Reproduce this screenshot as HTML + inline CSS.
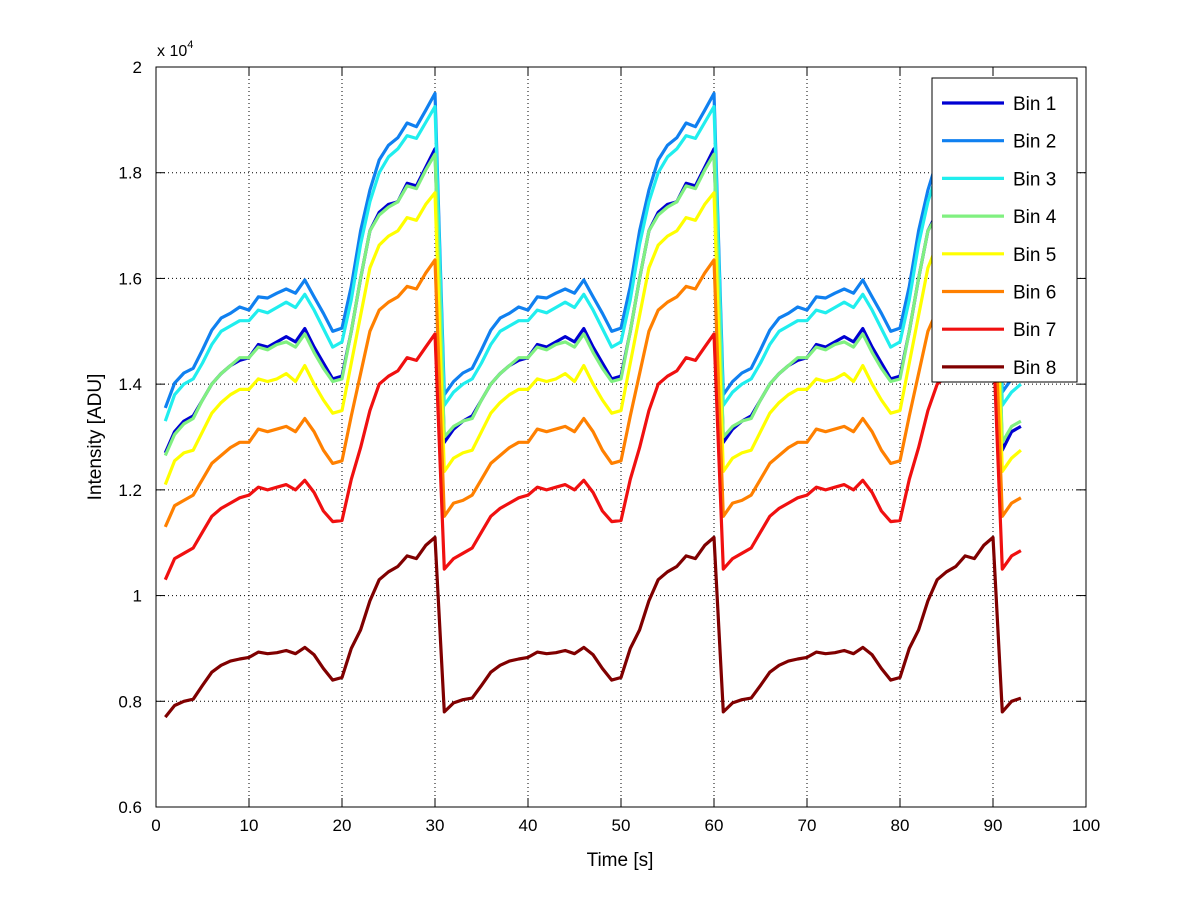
<!DOCTYPE html>
<html><head><meta charset="utf-8">
<style>
html,body{margin:0;padding:0;background:#fff;}
svg{display:block;font-family:"Liberation Sans",sans-serif;}
</style></head>
<body>
<svg id="chart" width="1200" height="901" viewBox="0 0 1200 901">
<rect x="0" y="0" width="1200" height="901" fill="#fff"/>
<g id="grid"></g>
<g id="axes"></g>
<g id="series"></g>
<rect x="156" y="67" width="930" height="740" fill="none" stroke="#000" stroke-width="1"/>
<text x="157" y="56" font-size="16">x 10<tspan dy="-8" font-size="11">4</tspan></text>
<text x="620" y="866" font-size="19" text-anchor="middle">Time [s]</text>
<text x="0" y="0" font-size="19" text-anchor="middle" transform="translate(101,437) rotate(-90)">Intensity [ADU]</text>
<g id="legend"></g>
</svg>
<script>
const xTicks = [0,10,20,30,40,50,60,70,80,90,100];
const yTicks = [0.6,0.8,1,1.2,1.4,1.6,1.8,2];
const yTickLabels = ["0.6","0.8","1","1.2","1.4","1.6","1.8","2"];
const seriesNames = ["Bin 1","Bin 2","Bin 3","Bin 4","Bin 5","Bin 6","Bin 7","Bin 8"];
const seriesColors = ["#0000d2","#1080f0","#20eeee","#80f080","#ffff00","#ff8000","#f01010","#800000"];
const time = [1,2,3,4,5,6,7,8,9,10,11,12,13,14,15,16,17,18,19,20,21,22,23,24,25,26,27,28,29,30,31,32,33,34,35,36,37,38,39,40,41,42,43,44,45,46,47,48,49,50,51,52,53,54,55,56,57,58,59,60,61,62,63,64,65,66,67,68,69,70,71,72,73,74,75,76,77,78,79,80,81,82,83,84,85,86,87,88,89,90,91,92,93];
const bin1 = [1.27,1.31,1.33,1.34,1.37,1.40,1.42,1.435,1.445,1.45,1.475,1.47,1.48,1.49,1.48,1.505,1.47,1.44,1.41,1.415,1.50,1.60,1.69,1.725,1.74,1.745,1.78,1.775,1.81,1.845,
1.29,1.315,1.33,1.34,1.37,1.40,1.42,1.435,1.445,1.45,1.475,1.47,1.48,1.49,1.48,1.505,1.47,1.44,1.41,1.415,1.50,1.60,1.69,1.725,1.74,1.745,1.78,1.775,1.81,1.845,
1.29,1.315,1.33,1.34,1.37,1.40,1.42,1.435,1.445,1.45,1.475,1.47,1.48,1.49,1.48,1.505,1.47,1.44,1.41,1.415,1.50,1.60,1.69,1.725,1.74,1.745,1.78,1.775,1.81,1.845,
1.275,1.31,1.32];
const bin2 = [1.355,1.402,1.421,1.43,1.465,1.502,1.525,1.534,1.546,1.54,1.565,1.563,1.572,1.58,1.572,1.597,1.565,1.534,1.50,1.506,1.585,1.69,1.767,1.824,1.852,1.866,1.894,1.887,1.918,1.95,
1.38,1.405,1.421,1.43,1.465,1.502,1.525,1.534,1.546,1.54,1.565,1.563,1.572,1.58,1.572,1.597,1.565,1.534,1.50,1.506,1.585,1.69,1.767,1.824,1.852,1.866,1.894,1.887,1.918,1.95,
1.38,1.405,1.421,1.43,1.465,1.502,1.525,1.534,1.546,1.54,1.565,1.563,1.572,1.58,1.572,1.597,1.565,1.534,1.50,1.506,1.585,1.69,1.767,1.824,1.852,1.866,1.894,1.887,1.918,1.95,
1.385,1.41,1.42];
const bin3 = [1.33,1.38,1.40,1.41,1.44,1.475,1.50,1.51,1.52,1.52,1.54,1.535,1.545,1.555,1.545,1.57,1.54,1.505,1.47,1.48,1.56,1.665,1.745,1.80,1.83,1.845,1.87,1.865,1.895,1.925,
1.36,1.385,1.40,1.41,1.44,1.475,1.50,1.51,1.52,1.52,1.54,1.535,1.545,1.555,1.545,1.57,1.54,1.505,1.47,1.48,1.56,1.665,1.745,1.80,1.83,1.845,1.87,1.865,1.895,1.925,
1.36,1.385,1.40,1.41,1.44,1.475,1.50,1.51,1.52,1.52,1.54,1.535,1.545,1.555,1.545,1.57,1.54,1.505,1.47,1.48,1.56,1.665,1.745,1.80,1.83,1.845,1.87,1.865,1.895,1.925,
1.36,1.385,1.40];
const bin4 = [1.265,1.305,1.325,1.335,1.37,1.40,1.42,1.435,1.45,1.45,1.47,1.465,1.475,1.48,1.47,1.495,1.46,1.43,1.405,1.41,1.50,1.60,1.69,1.72,1.735,1.745,1.775,1.77,1.805,1.835,
1.30,1.32,1.33,1.335,1.37,1.40,1.42,1.435,1.45,1.45,1.47,1.465,1.475,1.48,1.47,1.495,1.46,1.43,1.405,1.41,1.50,1.60,1.69,1.72,1.735,1.745,1.775,1.77,1.805,1.835,
1.30,1.32,1.33,1.335,1.37,1.40,1.42,1.435,1.45,1.45,1.47,1.465,1.475,1.48,1.47,1.495,1.46,1.43,1.405,1.41,1.50,1.60,1.69,1.72,1.735,1.745,1.775,1.77,1.805,1.835,
1.29,1.32,1.33];
const bin5 = [1.21,1.255,1.27,1.275,1.31,1.345,1.365,1.38,1.39,1.39,1.41,1.405,1.41,1.42,1.405,1.435,1.40,1.37,1.345,1.35,1.44,1.53,1.62,1.663,1.68,1.69,1.715,1.71,1.74,1.762,
1.235,1.26,1.27,1.275,1.31,1.345,1.365,1.38,1.39,1.39,1.41,1.405,1.41,1.42,1.405,1.435,1.40,1.37,1.345,1.35,1.44,1.53,1.62,1.663,1.68,1.69,1.715,1.71,1.74,1.762,
1.235,1.26,1.27,1.275,1.31,1.345,1.365,1.38,1.39,1.39,1.41,1.405,1.41,1.42,1.405,1.435,1.40,1.37,1.345,1.35,1.44,1.53,1.62,1.663,1.68,1.69,1.715,1.71,1.74,1.762,
1.235,1.26,1.275];
const bin6 = [1.13,1.17,1.18,1.19,1.22,1.25,1.265,1.28,1.29,1.29,1.315,1.31,1.315,1.32,1.31,1.335,1.31,1.275,1.25,1.255,1.34,1.42,1.50,1.54,1.555,1.565,1.585,1.58,1.61,1.635,
1.15,1.175,1.18,1.19,1.22,1.25,1.265,1.28,1.29,1.29,1.315,1.31,1.315,1.32,1.31,1.335,1.31,1.275,1.25,1.255,1.34,1.42,1.50,1.54,1.555,1.565,1.585,1.58,1.61,1.635,
1.15,1.175,1.18,1.19,1.22,1.25,1.265,1.28,1.29,1.29,1.315,1.31,1.315,1.32,1.31,1.335,1.31,1.275,1.25,1.255,1.34,1.42,1.50,1.54,1.555,1.565,1.585,1.58,1.61,1.635,
1.15,1.175,1.185];
const bin7 = [1.03,1.07,1.08,1.09,1.12,1.15,1.165,1.175,1.185,1.19,1.205,1.20,1.205,1.21,1.20,1.218,1.195,1.16,1.14,1.142,1.22,1.28,1.35,1.40,1.415,1.425,1.45,1.445,1.47,1.495,
1.05,1.07,1.08,1.09,1.12,1.15,1.165,1.175,1.185,1.19,1.205,1.20,1.205,1.21,1.20,1.218,1.195,1.16,1.14,1.142,1.22,1.28,1.35,1.40,1.415,1.425,1.45,1.445,1.47,1.495,
1.05,1.07,1.08,1.09,1.12,1.15,1.165,1.175,1.185,1.19,1.205,1.20,1.205,1.21,1.20,1.218,1.195,1.16,1.14,1.142,1.22,1.28,1.35,1.40,1.415,1.425,1.45,1.445,1.47,1.495,
1.05,1.075,1.085];
const bin8 = [0.77,0.792,0.800,0.804,0.830,0.855,0.868,0.876,0.880,0.883,0.893,0.890,0.892,0.896,0.890,0.902,0.888,0.862,0.840,0.845,0.900,0.935,0.990,1.030,1.045,1.055,1.075,1.070,1.095,1.110,
0.78,0.797,0.803,0.806,0.830,0.855,0.868,0.876,0.880,0.883,0.893,0.890,0.892,0.896,0.890,0.902,0.888,0.862,0.840,0.845,0.900,0.935,0.990,1.030,1.045,1.055,1.075,1.070,1.095,1.110,
0.78,0.797,0.803,0.806,0.830,0.855,0.868,0.876,0.880,0.883,0.893,0.890,0.892,0.896,0.890,0.902,0.888,0.862,0.840,0.845,0.900,0.935,0.990,1.030,1.045,1.055,1.075,1.070,1.095,1.110,
0.78,0.80,0.806];
const allSeries = [bin1,bin2,bin3,bin4,bin5,bin6,bin7,bin8];

const NS = "http://www.w3.org/2000/svg";
const L = 156, R = 1086, T = 67, B = 807;
const xMin = 0, xMax = 100, yMin = 0.6, yMax = 2;
function xs(v){ return L + (v - xMin) / (xMax - xMin) * (R - L); }
function ys(v){ return B - (v - yMin) / (yMax - yMin) * (B - T); }
function mk(tag, attrs, parent){ const e = document.createElementNS(NS, tag); for (const k in attrs) e.setAttribute(k, attrs[k]); parent.appendChild(e); return e; }

const grid = document.getElementById('grid');
const axes = document.getElementById('axes');
xTicks.forEach(function(t){
  const x = xs(t);
  if (t > xMin && t < xMax) {
    const g = mk('line', {x1:x, x2:x, y1:T, y2:B, stroke:'#000', 'stroke-width':1, 'stroke-dasharray':'1,3'}, grid);
    
    
  }
  const tk = mk('line', {x1:x, x2:x, y1:B, y2:B-9, stroke:'#000'}, axes);
  
  
  const tk2 = mk('line', {x1:x, x2:x, y1:T, y2:T+9, stroke:'#000'}, axes);
  
  
  const lb = mk('text', {x:x, y:B+24, 'font-size':17, 'text-anchor':'middle'}, axes);
  lb.textContent = String(t);
  
  
});
yTicks.forEach(function(t, i){
  const y = ys(t);
  if (i > 0 && i < yTicks.length - 1) {
    const g = mk('line', {x1:L, x2:R, y1:y, y2:y, stroke:'#000', 'stroke-width':1, 'stroke-dasharray':'1,3'}, grid);
    
    
  }
  const tk = mk('line', {x1:L, x2:L+9, y1:y, y2:y, stroke:'#000'}, axes);
  
  
  const tk2 = mk('line', {x1:R, x2:R-9, y1:y, y2:y, stroke:'#000'}, axes);
  
  
  const lb = mk('text', {x:L-14, y:y+6, 'font-size':17, 'text-anchor':'end'}, axes);
  lb.textContent = yTickLabels[i];
  
  
});

const sg = document.getElementById('series');
allSeries.forEach(function(vals, s){
  const pts = vals.map(function(v, i){ return xs(time[i]).toFixed(1) + ',' + ys(v).toFixed(1); }).join(' ');
  const pl = mk('polyline', {points:pts, fill:'none', stroke:seriesColors[s], 'stroke-width':3.2, 'stroke-linejoin':'round'}, sg);
  
  
});

const lg = document.getElementById('legend');
const box = mk('rect', {x:932, y:78, width:145, height:304, fill:'#fff', stroke:'#000', 'stroke-width':1}, lg);


seriesNames.forEach(function(n, i){
  const y = 103 + i * 37.7;
  const ln = mk('line', {x1:942, x2:1004, y1:y, y2:y, stroke:seriesColors[i], 'stroke-width':3.2}, lg);
  
  
  const tx = mk('text', {x:1013, y:y+7, 'font-size':19}, lg);
  tx.textContent = n;
  
  
});
</script>
</body></html>
